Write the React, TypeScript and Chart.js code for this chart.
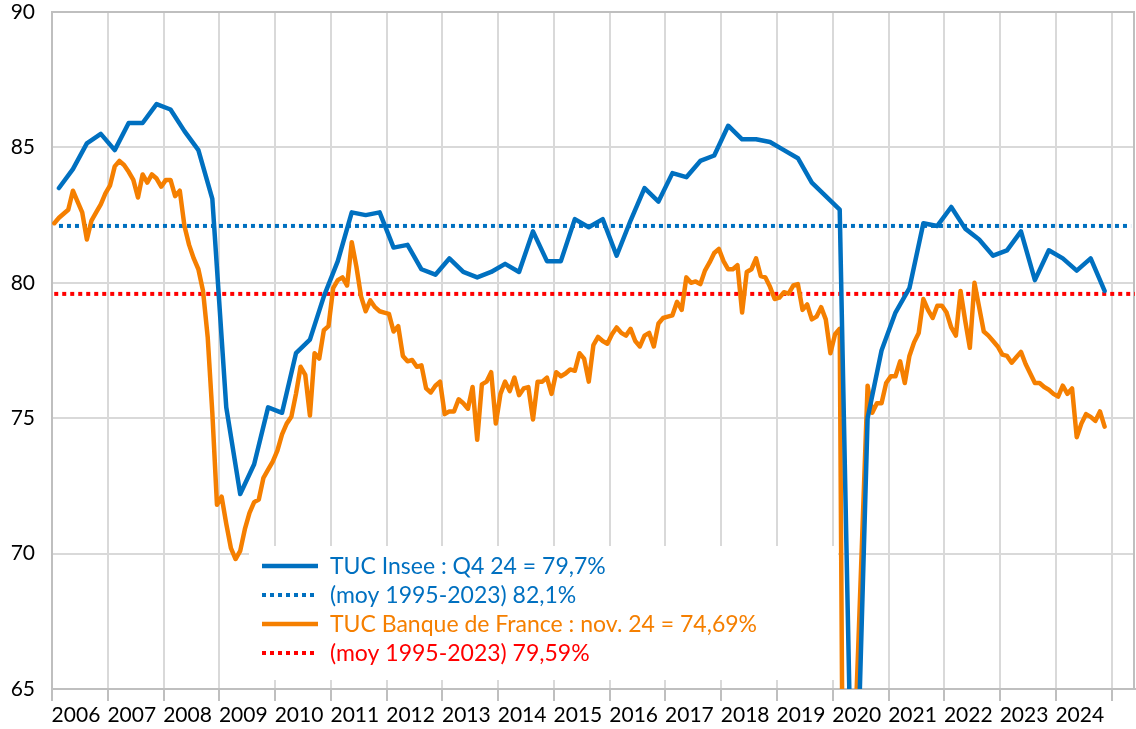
import { useEffect, useRef } from "react";
import { Chart, registerables } from "chart.js";

Chart.register(...registerables);

// ---------- data ----------
const startYear = 2006;

// TUC Insee, quarterly, 2006 Q1 .. 2024 Q4
const inseeQuarterly = [
  83.5, 84.2, 85.15, 85.5,
  84.9, 85.9, 85.9, 86.6,
  86.4, 85.6, 84.9, 83.1,
  75.4, 72.2, 73.3, 75.4,
  75.2, 77.4, 77.9, 79.5,
  80.8, 82.6, 82.5, 82.6,
  81.3, 81.4, 80.5, 80.3,
  80.9, 80.4, 80.2, 80.4,
  80.7, 80.4, 81.9, 80.8,
  80.8, 82.35, 82.05, 82.35,
  81.0, 82.3, 83.5, 83.0,
  84.05, 83.9, 84.5, 84.7,
  85.8, 85.3, 85.3, 85.2,
  84.9, 84.6, 83.7, 83.2,
  82.7, 57.0, 75.0, 77.5,
  78.9, 79.8, 82.2, 82.1,
  82.8, 82.0, 81.6, 81.0,
  81.2, 81.9, 80.1, 81.2,
  80.9, 80.45, 80.9, 79.7,
];

// TUC Banque de France, monthly, 2006-01 .. 2024-11
const bdfMonthly = [
  82.2, 82.4, 82.55, 82.7, 83.4, 83.0, 82.6, 81.6, 82.3, 82.6, 82.9, 83.3,
  83.6, 84.3, 84.5, 84.35, 84.1, 83.8, 83.15, 84.0, 83.7, 84.0, 83.85, 83.55,
  83.8, 83.8, 83.2, 83.4, 82.1, 81.4, 80.9, 80.5, 79.7, 78.0, 75.2, 71.8,
  72.1, 71.1, 70.2, 69.8, 70.1, 70.9, 71.5, 71.9, 72.0, 72.8, 73.1, 73.4,
  73.8, 74.4, 74.8, 75.05, 75.9, 76.9, 76.6, 75.1, 77.4, 77.2, 78.25, 78.4,
  79.8, 80.1, 80.2, 79.9, 81.5, 80.6, 79.5, 78.95, 79.35, 79.1, 78.95, 78.9,
  78.85, 78.2, 78.4, 77.3, 77.1, 77.15, 76.9, 76.95, 76.1, 75.95, 76.2, 76.35,
  75.15, 75.25, 75.25, 75.7, 75.55, 75.35, 76.15, 74.2, 76.25, 76.35, 76.7, 74.8,
  75.9, 76.35, 76.0, 76.5, 75.85, 76.1, 76.15, 74.95, 76.35, 76.35, 76.5, 75.9,
  76.7, 76.55, 76.65, 76.8, 76.75, 77.4, 77.2, 76.35, 77.7, 78.0, 77.85, 77.75,
  78.1, 78.35, 78.15, 78.05, 78.3, 77.85, 77.65, 78.05, 78.15, 77.65, 78.5, 78.7,
  78.75, 78.8, 79.3, 79.0, 80.2, 80.0, 80.05, 79.95, 80.45, 80.75, 81.1, 81.25,
  80.8, 80.5, 80.5, 80.65, 78.9, 80.4, 80.5, 80.9, 80.25, 80.2, 79.85, 79.4,
  79.45, 79.65, 79.6, 79.9, 79.95, 79.0, 79.2, 78.65, 78.75, 79.1, 78.65, 77.4,
  78.1, 78.3, 52.0, 48.0, 62.0, 66.6, 71.4, 76.2, 75.2, 75.55, 75.55, 76.3,
  76.55, 76.55, 77.1, 76.3, 77.3, 77.8, 78.15, 79.4, 79.0, 78.7, 79.15, 79.15,
  78.9, 78.35, 78.05, 79.7, 78.6, 77.6, 80.0, 79.1, 78.2, 78.05, 77.85, 77.65,
  77.35, 77.3, 77.05, 77.25, 77.45, 77.0, 76.65, 76.3, 76.3, 76.15, 76.05, 75.9,
  75.8, 76.2, 75.9, 76.1, 74.3, 74.8, 75.15, 75.05, 74.9, 75.25, 74.69,
];

// long-run averages (moy 1995-2023) and the date span over which they are drawn
const inseeAverage = 82.1;
const bdfAverage = 79.59;
const inseeAverageSpan = [2006.125, 2025.35];
const bdfAverageSpan = [2006.04, 2025.6];

// axis ticks
const yearTicks = [
  2006, 2007, 2008, 2009, 2010, 2011, 2012, 2013, 2014, 2015,
  2016, 2017, 2018, 2019, 2020, 2021, 2022, 2023, 2024,
];
const yTicks = [65, 70, 75, 80, 85, 90];
const xMin = 2006;
const xMax = 2025.42;

const legendLabels = [
  "TUC Insee : Q4 24 = 79,7%",
  "(moy 1995-2023) 82,1%",
  "TUC Banque de France : nov. 24 = 74,69%",
  "(moy 1995-2023) 79,59%",
];

// ---------- styles ----------
const BLUE = "#0070C0";
const ORANGE = "#F57F00";
const RED = "#FF0000";
const GRID = "#D9D9D9";
const AXIS = "#BFBFBF";
const FONT = "Lato, 'Open Sans', sans-serif";

const isInt = (v: number) => Math.abs(v - Math.round(v)) < 1e-6;
const LABEL_SHIFT = 0.43;

const plotBorder = {
  id: "plotBorder",
  beforeDatasetsDraw(chart: any) {
    const { ctx, chartArea } = chart;
    ctx.save();
    ctx.strokeStyle = AXIS;
    ctx.lineWidth = 2;
    ctx.beginPath();
    ctx.moveTo(chartArea.right - 1, chartArea.top);
    ctx.lineTo(chartArea.right - 1, chartArea.bottom);
    ctx.stroke();
    ctx.restore();
  },
};

const insideLegend = {
  id: "insideLegend",
  afterDatasetsDraw(chart: any) {
    const { ctx, chartArea } = chart;
    const boxLeft = chartArea.left + 197;
    const boxTop = chartArea.top + 534;
    const boxRight = chartArea.left + 786;
    const boxBottom = chartArea.bottom - 9;
    ctx.save();
    ctx.fillStyle = "#FFFFFF";
    ctx.fillRect(boxLeft, boxTop, boxRight - boxLeft, boxBottom - boxTop);
    const lineX0 = chartArea.left + 210;
    const lineX1 = chartArea.left + 266;
    const textX = chartArea.left + 278;
    const firstY = chartArea.top + 554;
    const rowH = 29;
    chart.data.datasets.forEach((ds: any, i: number) => {
      const y = firstY + i * rowH;
      ctx.save();
      ctx.strokeStyle = ds.borderColor;
      ctx.lineWidth = ds.borderWidth;
      ctx.setLineDash(ds.borderDash || []);
      ctx.lineCap = "butt";
      ctx.beginPath();
      ctx.moveTo(lineX0, y);
      ctx.lineTo(lineX1, y);
      ctx.stroke();
      ctx.restore();
      ctx.fillStyle = ds.borderColor;
      ctx.font = `23px ${FONT}`;
      ctx.textBaseline = "middle";
      ctx.textAlign = "left";
      ctx.fillText(ds.label, textX, y + 1);
    });
    ctx.restore();
  },
};

export default function App() {
  const canvasRef = useRef<HTMLCanvasElement | null>(null);

  useEffect(() => {
    document.body.style.margin = "0";
    const canvas = canvasRef.current;
    if (!canvas) return;

    const inseePoints = inseeQuarterly.map((v, i) => ({
      x: startYear + (3 * i + 1.5) / 12,
      y: v,
    }));
    const bdfPoints = bdfMonthly.map((v, i) => ({
      x: startYear + (i + 0.5) / 12,
      y: v,
    }));

    const chart = new Chart(canvas, {
      type: "line",
      data: {
        datasets: [
          {
            label: legendLabels[0],
            data: inseePoints,
            borderColor: BLUE,
            backgroundColor: BLUE,
            borderWidth: 4.5,
            borderJoinStyle: "round",
            borderCapStyle: "round",
            pointRadius: 0,
            order: 1,
            clip: 0,
          },
          {
            label: legendLabels[1],
            data: inseeAverageSpan.map((x) => ({ x, y: inseeAverage })),
            borderColor: BLUE,
            backgroundColor: BLUE,
            borderWidth: 4,
            borderDash: [4, 4],
            borderCapStyle: "butt",
            pointRadius: 0,
            order: 3,
            clip: 0,
          },
          {
            label: legendLabels[2],
            data: bdfPoints,
            borderColor: ORANGE,
            backgroundColor: ORANGE,
            borderWidth: 4.5,
            borderJoinStyle: "round",
            borderCapStyle: "round",
            pointRadius: 0,
            order: 2,
            clip: 0,
          },
          {
            label: legendLabels[3],
            data: bdfAverageSpan.map((x) => ({ x, y: bdfAverage })),
            borderColor: RED,
            backgroundColor: RED,
            borderWidth: 4,
            borderDash: [4, 4],
            borderCapStyle: "butt",
            pointRadius: 0,
            order: 4,
            clip: 0,
          },
        ],
      },
      options: {
        animation: false,
        responsive: false,
        maintainAspectRatio: false,
        layout: { padding: { top: 12, right: 1, left: 0, bottom: 0 } },
        plugins: {
          legend: { display: false },
          tooltip: { enabled: false },
        },
        scales: {
          x: {
            type: "linear",
            min: xMin,
            max: xMax,
            afterBuildTicks: (scale: any) => {
              const ticks: { value: number }[] = [];
              yearTicks.forEach((y) => {
                ticks.push({ value: y });
                ticks.push({ value: y + LABEL_SHIFT });
              });
              ticks.push({ value: yearTicks[yearTicks.length - 1] + 1 });
              scale.ticks = ticks;
            },
            afterFit: (scale: any) => {
              scale.height = 40;
              scale.paddingLeft = 0;
              scale.paddingRight = 0;
            },
            grid: {
              color: (ctx: any) => (isInt(ctx.tick.value) ? GRID : "rgba(0,0,0,0)"),
              tickColor: (ctx: any) => (isInt(ctx.tick.value) ? AXIS : "rgba(0,0,0,0)"),
              lineWidth: 2,
              tickWidth: 2,
              tickLength: 12,
            },
            border: { color: AXIS, width: 2 },
            ticks: {
              autoSkip: false,
              maxRotation: 0,
              minRotation: 0,
              padding: 2,
              color: "#000000",
              font: { family: FONT, size: 21 },
              callback: (v: any) => (isInt(Number(v)) ? "" : String(Math.floor(Number(v)))),
            },
          },
          y: {
            type: "linear",
            min: 65,
            max: 90,
            afterBuildTicks: (scale: any) => {
              scale.ticks = yTicks.map((v) => ({ value: v }));
            },
            afterFit: (scale: any) => {
              scale.width = 52;
              scale.paddingTop = 0;
              scale.paddingBottom = 0;
            },
            grid: {
              color: (ctx: any) => (ctx.tick && ctx.tick.value === 90 ? AXIS : GRID),
              lineWidth: 2,
              drawTicks: false,
            },
            border: { color: AXIS, width: 2 },
            ticks: {
              padding: 17,
              color: "#000000",
              font: { family: FONT, size: 21 },
              callback: (v: any) => String(v),
            },
          },
        },
      },
      plugins: [plotBorder, insideLegend],
    } as any);

    return () => chart.destroy();
  }, []);

  return (
    <div style={{ width: 1136, height: 729, position: "relative" }}>
      <canvas
        ref={canvasRef}
        width={1136}
        height={729}
        style={{ display: "block", width: 1136, height: 729 }}
      />
    </div>
  );
}
